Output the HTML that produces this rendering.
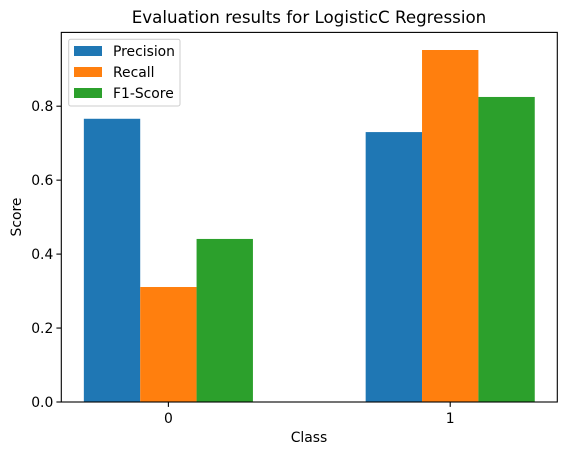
<!DOCTYPE html>
<html><head><meta charset="utf-8"><style>
body{margin:0;background:#fff;font-family:"Liberation Sans","DejaVu Sans",sans-serif;}
svg text{font-family:"DejaVu Sans","Liberation Sans",sans-serif;fill:#000;}
</style></head><body>
<svg id="chart" width="567" height="455" viewBox="0 0 567 455" xmlns="http://www.w3.org/2000/svg">
<rect width="567" height="455" fill="#fff"/>
<text x="309" y="23" font-size="16.7" text-anchor="middle">Evaluation results for LogisticC Regression</text>
<g id="bars"></g>
<g id="axes"></g>
<text x="309" y="442" font-size="13.9" text-anchor="middle">Class</text>
<text transform="translate(21,217) rotate(-90)" font-size="13.9" text-anchor="middle">Score</text>
<g id="legend"></g>
</svg>
<script>
const categories = ["0", "1"];
const seriesNames = ["Precision", "Recall", "F1-Score"];
const precision = [0.766, 0.730];
const recall = [0.311, 0.952];
const f1 = [0.441, 0.825];
const yTicks = [0.0, 0.2, 0.4, 0.6, 0.8];
const yTickLabels = ["0.0", "0.2", "0.4", "0.6", "0.8"];

const colors = ["#1f77b4", "#ff7f0e", "#2ca02c"];
const series = [precision, recall, f1];
const NS = "http://www.w3.org/2000/svg";
const L = 61.3, R = 557.3, T = 32.4, B = 402;
const allVals = [].concat(precision, recall, f1);
const yMax = Math.max.apply(null, allVals) * 1.05;
const xMin = -0.38, xMax = categories.length - 1 + 0.38;
const bw = 0.2;
function xs(v){ return L + (v - xMin) / (xMax - xMin) * (R - L); }
function ys(v){ return B - v / yMax * (B - T); }
function mk(tag, attrs, parent){ const e = document.createElementNS(NS, tag); for (const k in attrs) e.setAttribute(k, attrs[k]); parent.appendChild(e); return e; }

const bars = document.getElementById("bars");
series.forEach((s, si) => {
  s.forEach((v, ci) => {
    const x0 = xs(ci + (si - 1) * bw - bw / 2), x1 = xs(ci + (si - 1) * bw + bw / 2);
    const r = mk("rect", {x: x0, y: ys(v), width: x1 - x0, height: ys(0) - ys(v), fill: colors[si]}, bars);
    
    
  });
});

const axes = document.getElementById("axes");
const frame = mk("rect", {x: L, y: T, width: R - L, height: B - T, fill: "none", stroke: "#000", "stroke-width": 1.1}, axes);


yTicks.forEach((t, i) => {
  const y = ys(t);
  const tk = mk("line", {x1: L - 4.9, x2: L, y1: y, y2: y, stroke: "#000", "stroke-width": 1.1}, axes);
  
  
  const tx = mk("text", {x: L - 8, y: y + 5, "font-size": 13.9, "text-anchor": "end"}, axes);
  tx.textContent = yTickLabels[i];
  
  
});
categories.forEach((c, i) => {
  const x = xs(i);
  const tk = mk("line", {x1: x, x2: x, y1: B, y2: B + 4.9, stroke: "#000", "stroke-width": 1.1}, axes);
  
  
  const tx = mk("text", {x: x, y: B + 21, "font-size": 13.9, "text-anchor": "middle"}, axes);
  tx.textContent = c;
  
  
});

const lg = document.getElementById("legend");
const box = mk("rect", {x: 68.7, y: 39.3, width: 111.3, height: 66.7, rx: 2, fill: "#fff", "fill-opacity": 0.8, stroke: "#ccc", "stroke-width": 1}, lg);


seriesNames.forEach((n, i) => {
  const cy = 51 + i * 21;
  const p = mk("rect", {x: 74, y: cy - 5, width: 28, height: 10, fill: colors[i]}, lg);
  
  
  const t = mk("text", {x: 113, y: cy + 5, "font-size": 13.9}, lg);
  t.textContent = n;
  
  
});
</script>
</body></html>
